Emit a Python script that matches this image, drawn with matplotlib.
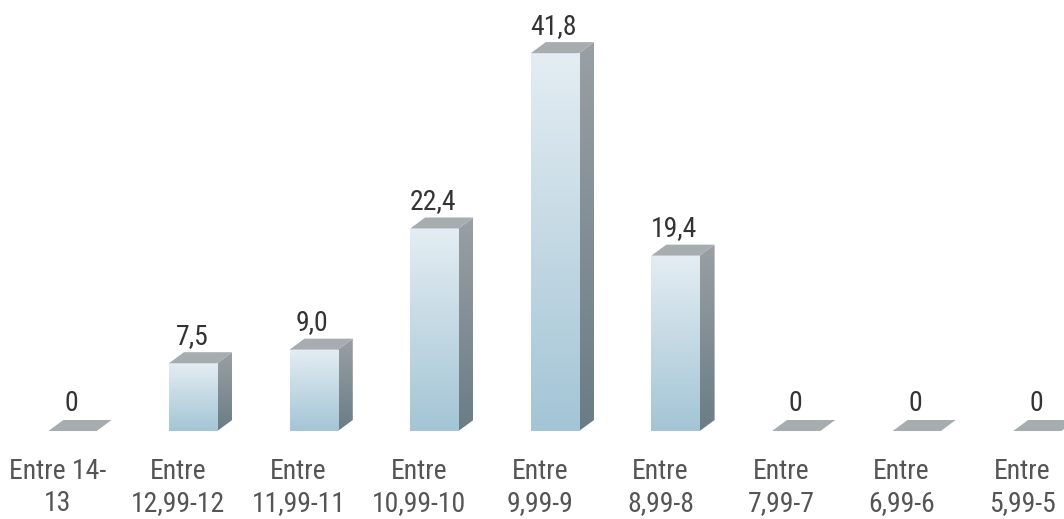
import matplotlib
matplotlib.use('Agg')
import matplotlib.pyplot as plt
import numpy as np
from matplotlib import font_manager
from matplotlib.colors import LinearSegmentedColormap
from matplotlib.patches import Polygon, Rectangle

# Data
categories = ['Entre 14-\n13', 'Entre\n12,99-12', 'Entre\n11,99-11', 'Entre\n10,99-10',
              'Entre\n9,99-9', 'Entre\n8,99-8', 'Entre\n7,99-7', 'Entre\n6,99-6', 'Entre\n5,99-5']
values = [0, 7.5, 9.0, 22.4, 41.8, 19.4, 0, 0, 0]

# pick a narrow font if one is there (the original is Arial Narrow)
names = {f.name for f in font_manager.fontManager.ttflist}
font, fsize = 'DejaVu Sans', 15
for cand in ['Liberation Sans Narrow', 'Roboto Condensed', 'Archivo Narrow', 'PT Sans Narrow']:
    if cand in names:
        font, fsize = cand, 20
        break
plt.rcParams['font.family'] = [font, 'DejaVu Sans']

fig = plt.figure(figsize=(10.64, 5.19), dpi=100)
ax = fig.add_axes([0, 0, 1, 1])
ax.set_xlim(-0.601, 8.221)
ax.set_ylim(-9.73, 47.68)
ax.axis('off')

width = 0.40   # front face width
dx = 0.124     # depth to the right
dy = 1.22      # depth upwards

front_cmap = LinearSegmentedColormap.from_list('front', ['#a3c5d5', '#e4edf3'])
side_cmap = LinearSegmentedColormap.from_list('side', ['#6a7c86', '#9aa0a4'])
grad = np.linspace(0, 1, 256).reshape(-1, 1)

for i, v in enumerate(values):
    x0 = i - width / 2
    x1 = i + width / 2
    # side face
    side = Polygon([(x1, 0), (x1 + dx, dy), (x1 + dx, v + dy), (x1, v)],
                   closed=True, facecolor='none', edgecolor='none')
    ax.add_patch(side)
    if v > 0:
        im = ax.imshow(grad, cmap=side_cmap, origin='lower', aspect='auto',
                       extent=(x1, x1 + dx, 0, v + dy), zorder=2)
        im.set_clip_path(side)
    # front face
    front = Rectangle((x0, 0), width, v, facecolor='none', edgecolor='none')
    ax.add_patch(front)
    if v > 0:
        im = ax.imshow(grad, cmap=front_cmap, origin='lower', aspect='auto',
                       extent=(x0, x1, 0, v), zorder=2)
        im.set_clip_path(front)
    # top face
    ax.add_patch(Polygon([(x0, v), (x1, v), (x1 + dx, v + dy), (x0 + dx, v + dy)],
                         closed=True, facecolor='#a7acaf', edgecolor='none', zorder=3))
    # value label
    txt = '0' if v == 0 else f'{v:.1f}'.replace('.', ',')
    ax.text(i - 0.01, v + dy + 0.95, txt, ha='center', va='baseline',
            fontsize=fsize, color='#333333')
    # category label (baseline of the last line)
    ax.text(i - 0.125, -8.85, categories[i], ha='center', va='baseline',
            fontsize=fsize, color='#555555', linespacing=1.25)

fig.savefig('out.png', dpi=100)
